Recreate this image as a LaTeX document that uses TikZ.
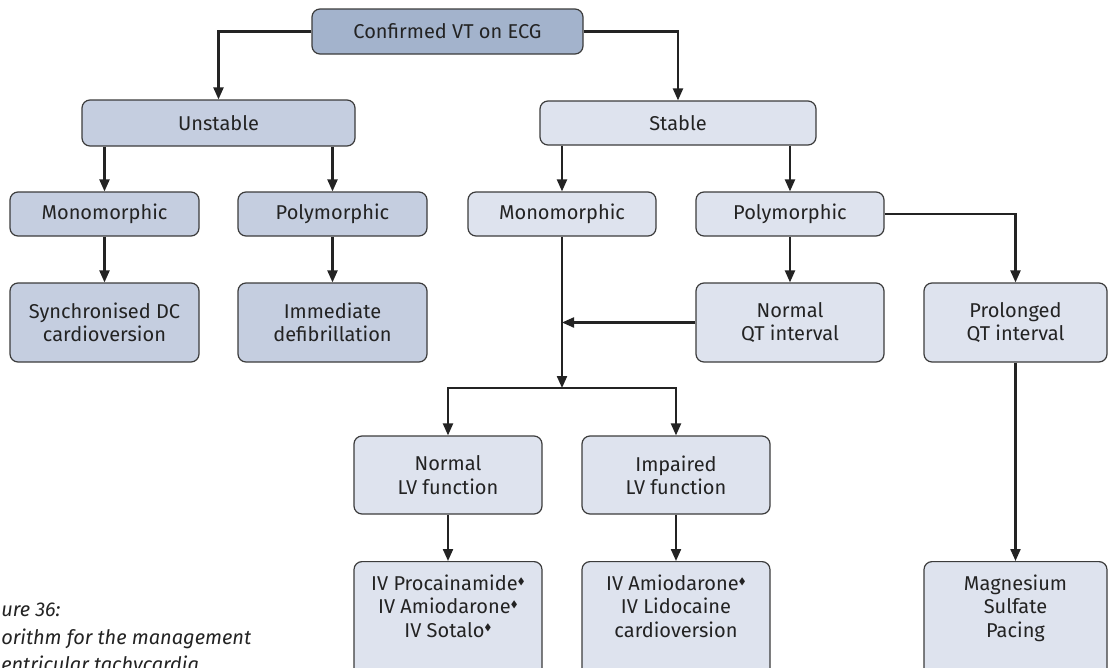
\documentclass[tikz,border=0pt]{standalone}
\usepackage{fontspec}
\setmainfont{Fira Sans}
\usepackage{amssymb}
\usetikzlibrary{arrows.meta,calc}
\definecolor{topc}{RGB}{163,179,204}
\definecolor{unc}{RGB}{197,206,224}
\definecolor{stc}{RGB}{222,227,238}
\definecolor{edgec}{RGB}{60,60,60}
\definecolor{ink}{RGB}{35,35,35}
\newcommand{\dia}{\raisebox{0.6ex}{\fontsize{7}{7}\selectfont$\blacklozenge$}}
\begin{document}
\begin{tikzpicture}[x=0.75pt,y=-0.75pt,
  box/.style={draw=edgec, line width=0.9pt, rounded corners=6pt, align=center, text=ink,
    font=\fontsize{15}{17.5}\selectfont, inner sep=0pt},
  bw/.style={minimum width=#1*0.75pt},
  bh/.style={minimum height=#1*0.75pt},
  tallbox/.style={box, fill=stc, bw=188, anchor=north, inner ysep=10pt},
  arr/.style={draw=ink, line width=1.6pt, -{Triangle[length=9pt,width=7.5pt]}},
  capt/.style={font=\fontsize{15}{20.5}\selectfont\itshape, text=ink, inner sep=0pt, align=left}]
\useasboundingbox (0,0) rectangle (1108,668);
\clip (0,0) rectangle (1108,668);
\fill[white] (0,0) rectangle (1108,668);

\node[box,fill=topc,bw=271,bh=45] (top) at (447.5,31.5) {Confirmed VT on ECG};
\node[box,fill=unc,bw=273,bh=46] (unst) at (218.5,123) {Unstable};
\node[box,fill=stc,bw=276,bh=44] (stab) at (678,123) {Stable};
\node[box,fill=unc,bw=189,bh=44] (umono) at (104.5,214) {Monomorphic};
\node[box,fill=unc,bw=189,bh=44] (upoly) at (332.5,214) {Polymorphic};
\node[box,fill=stc,bw=188,bh=44] (smono) at (562,214) {Monomorphic};
\node[box,fill=stc,bw=188,bh=44] (spoly) at (790,214) {Polymorphic};
\node[box,fill=unc,bw=189,bh=79] (sync) at (104.5,322.5) {Synchronised DC\\cardioversion};
\node[box,fill=unc,bw=189,bh=79] (defib) at (332.5,322.5) {Immediate\\defibrillation};
\node[box,fill=stc,bw=188,bh=79] (nqt) at (790,322.5) {Normal\\QT interval};
\node[box,fill=stc,bw=183,bh=79] (pqt) at (1015.5,322.5) {Prolonged\\QT interval};
\node[box,fill=stc,bw=188,bh=78] (nlv) at (448,475) {Normal\\LV function};
\node[box,fill=stc,bw=188,bh=78] (ilv) at (676,475) {Impaired\\LV function};
\node[tallbox] (t1) at (448,561) {IV Procainamide\dia\\IV Amiodarone\dia\\IV Sotalo\dia\rule[-60pt]{0pt}{1pt}};
\node[tallbox] (t2) at (676,561) {IV Amiodarone\dia\\IV Lidocaine\\cardioversion\rule[-60pt]{0pt}{1pt}};
\node[tallbox,bw=183] (t3) at (1015.5,561) {Magnesium\\Sulfate\\Pacing\rule[-60pt]{0pt}{1pt}};

\node[capt, anchor=north west] (cap) at (1,603) {ure 36:\\orithm for the management\\entricular tachycardia};

\coordinate (J) at (562,388);
\draw[arr] (top.west) -| (unst.north);
\draw[arr] (top.east) -| (stab.north);
\draw[arr] (unst.south -| umono.north) -- (umono.north);
\draw[arr] (unst.south -| upoly.north) -- (upoly.north);
\draw[arr] (stab.south -| smono.north) -- (smono.north);
\draw[arr] (stab.south -| spoly.north) -- (spoly.north);
\draw[arr] (umono.south) -- (sync.north);
\draw[arr] (upoly.south) -- (defib.north);
\draw[arr] (spoly.south) -- (nqt.north);
\draw[arr] (spoly.east) -| (pqt.north);
\draw[arr] (smono.south) -- (J);
\draw[arr] (nqt.west) -- (nqt.west -| smono.south);
\draw[arr] (J) -| (nlv.north);
\draw[arr] (J) -| (ilv.north);
\draw[arr] (nlv.south) -- (t1.north);
\draw[arr] (ilv.south) -- (t2.north);
\draw[arr] (pqt.south) -- (t3.north);
\end{tikzpicture}
\end{document}
